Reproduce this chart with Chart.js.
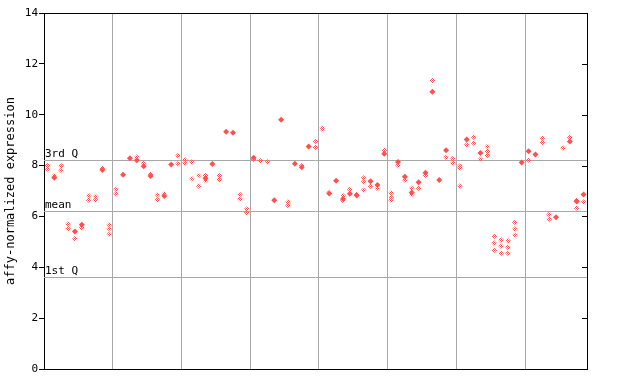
<!DOCTYPE html>
<html><head><meta charset="utf-8">
<script src="https://cdn.jsdelivr.net/npm/chart.js@4/dist/chart.umd.min.js"></script>
<style>html,body{margin:0;padding:0;background:#fff}</style>
</head><body>
<canvas id="c" width="640" height="384"></canvas>
<script>
// y axis ticks
const yTicks = [0, 2, 4, 6, 8, 10, 12, 14];
// sample group boundaries (10 samples per group)
const groupBoundaries = [9.5, 19.5, 29.5, 39.5, 49.5, 59.5, 69.5];
// reference lines
const statLabels = ['3rd Q', 'mean', '1st Q'];
const statValues = [8.22, 6.22, 3.62];
// replicate values per sample column (light, dithered markers)
const lightValues = [
  [7.87, 8.0], [7.6], [7.99, 7.81], [5.70, 5.52], [5.12], [5.55], [6.82, 6.65], [6.78, 6.65], [7.9], [5.67, 5.52, 5.30],
  [7.07, 6.89], [], [], [8.33], [8.10], [7.66], [6.85, 6.65], [6.89], [], [8.39, 8.07],
  [8.23, 8.10], [8.14, 7.48], [7.61, 7.2], [7.61, 7.41], [], [7.61, 7.44], [], [], [6.86, 6.69], [6.29, 6.15],
  [8.25], [8.19], [8.14], [], [], [6.57, 6.43], [], [7.99], [], [8.96, 8.72],
  [9.49, 9.42], [6.94], [], [6.81, 6.63], [7.07], [6.87], [7.51, 7.35, 7.03], [7.19], [7.10], [8.60],
  [6.92, 6.75, 6.64], [8.01], [7.43], [7.11, 6.86], [7.11], [7.62], [11.36], [], [8.33], [8.28, 8.10],
  [7.98, 7.90, 7.19], [8.81], [9.12, 8.89], [8.25], [8.75, 8.56, 8.41], [5.22, 4.95, 4.67], [5.07, 4.83, 4.55], [5.04, 4.79, 4.55], [5.77, 5.50, 5.26], [],
  [8.22], [], [9.08, 8.91], [6.08, 5.89], [], [8.69], [9.11], [6.64, 6.33], [6.57]
];
// overlapping replicate values per sample column (solid markers)
const solidValues = [
  [], [7.52], [], [], [5.41], [5.67], [], [], [7.83], [],
  [], [7.64], [8.29], [8.21], [7.97], [7.59], [], [6.80], [8.04], [],
  [], [], [], [7.5], [8.06], [], [9.33], [9.29], [], [],
  [8.31], [], [], [6.64], [9.8], [], [8.07], [7.93], [8.75], [],
  [], [6.90], [7.40], [6.69], [6.89], [6.82], [], [7.38], [7.24], [8.46],
  [], [8.14], [7.56], [6.94], [7.34], [7.72], [10.9], [7.43], [8.60], [],
  [], [9.03], [], [8.49], [], [], [], [], [], [8.12],
  [8.56], [8.44], [], [], [5.97], [], [8.95], [6.59], [6.86]
];

const RED = '#ff5050';
const GRID = '#a8a8a8';

function toPoints(arr) {
  const pts = [];
  arr.forEach((vals, i) => vals.forEach(v => pts.push({ x: i, y: v })));
  return pts;
}

// dithered fill pattern
const pc = document.createElement('canvas');
pc.width = 2; pc.height = 2;
const pctx = pc.getContext('2d');
pctx.fillStyle = RED;
pctx.fillRect(0, 0, 1, 1);
pctx.fillRect(1, 1, 1, 1);
const ditherPattern = document.getElementById('c').getContext('2d').createPattern(pc, 'repeat');

const overlay = {
  id: 'overlay',
  beforeDatasetsDraw(chart) {
    const ctx = chart.ctx, a = chart.chartArea, ys = chart.scales.y;
    ctx.save();
    ctx.strokeStyle = GRID;
    ctx.lineWidth = 1;
    ctx.fillStyle = '#000';
    ctx.font = '11px "DejaVu Sans Mono"';
    ctx.textBaseline = 'bottom';
    ctx.textAlign = 'left';
    statValues.forEach((v, i) => {
      const y = Math.round(ys.getPixelForValue(v)) + 0.5;
      ctx.beginPath();
      ctx.moveTo(a.left, y);
      ctx.lineTo(a.right, y);
      ctx.stroke();
      ctx.fillText(statLabels[i], a.left + 1, y - 0.5);
    });
    ctx.restore();
  },
  afterDraw(chart) {
    const ctx = chart.ctx, a = chart.chartArea, ys = chart.scales.y;
    ctx.save();
    ctx.strokeStyle = '#000';
    ctx.lineWidth = 1;
    ctx.beginPath();
    ctx.moveTo(a.left, Math.round(a.top) + 0.5);
    ctx.lineTo(a.right + 1, Math.round(a.top) + 0.5);
    ctx.moveTo(Math.round(a.right) + 0.5, a.top);
    ctx.lineTo(Math.round(a.right) + 0.5, a.bottom);
    yTicks.forEach(v => {
      const y = Math.round(ys.getPixelForValue(v)) + 0.5;
      ctx.moveTo(a.right - 5, y);
      ctx.lineTo(a.right, y);
    });
    ctx.stroke();
    ctx.restore();
  }
};

new Chart(document.getElementById('c'), {
  type: 'scatter',
  data: {
    datasets: [
      { label: 'replicates', data: toPoints(lightValues), pointStyle: 'rectRot', pointRadius: 2.8,
        backgroundColor: ditherPattern, borderWidth: 0, pointBorderWidth: 0 },
      { label: 'overlapping', data: toPoints(solidValues), pointStyle: 'rectRot', pointRadius: 3,
        backgroundColor: RED, borderWidth: 0, pointBorderWidth: 0 }
    ]
  },
  options: {
    responsive: false,
    animation: false,
    events: [],
    layout: { padding: { left: 0, right: 53, top: 13, bottom: 0 } },
    plugins: { legend: { display: false }, tooltip: { enabled: false } },
    scales: {
      x: {
        type: 'linear', min: -0.5, max: 78.5,
        afterBuildTicks: s => { s.ticks = groupBoundaries.map(v => ({ value: v })); },
        ticks: { display: false },
        grid: { color: GRID, drawTicks: false, lineWidth: 1 },
        border: { color: '#000', width: 1 },
        afterFit: s => { s.height = 15; }
      },
      y: {
        min: 0, max: 14,
        afterBuildTicks: s => { s.ticks = yTicks.map(v => ({ value: v })); },
        ticks: { color: '#000', font: { family: 'DejaVu Sans Mono', size: 11 }, padding: 1 },
        grid: { drawOnChartArea: false, tickLength: 5, tickColor: '#000' },
        border: { color: '#000', width: 1 },
        title: { display: true, text: 'affy-normalized expression', color: '#000',
                 font: { family: 'DejaVu Sans Mono', size: 12 }, padding: { top: 4, bottom: 0 } },
        afterFit: s => { s.width = 44; }
      }
    }
  },
  plugins: [overlay]
});
</script>
</body></html>
